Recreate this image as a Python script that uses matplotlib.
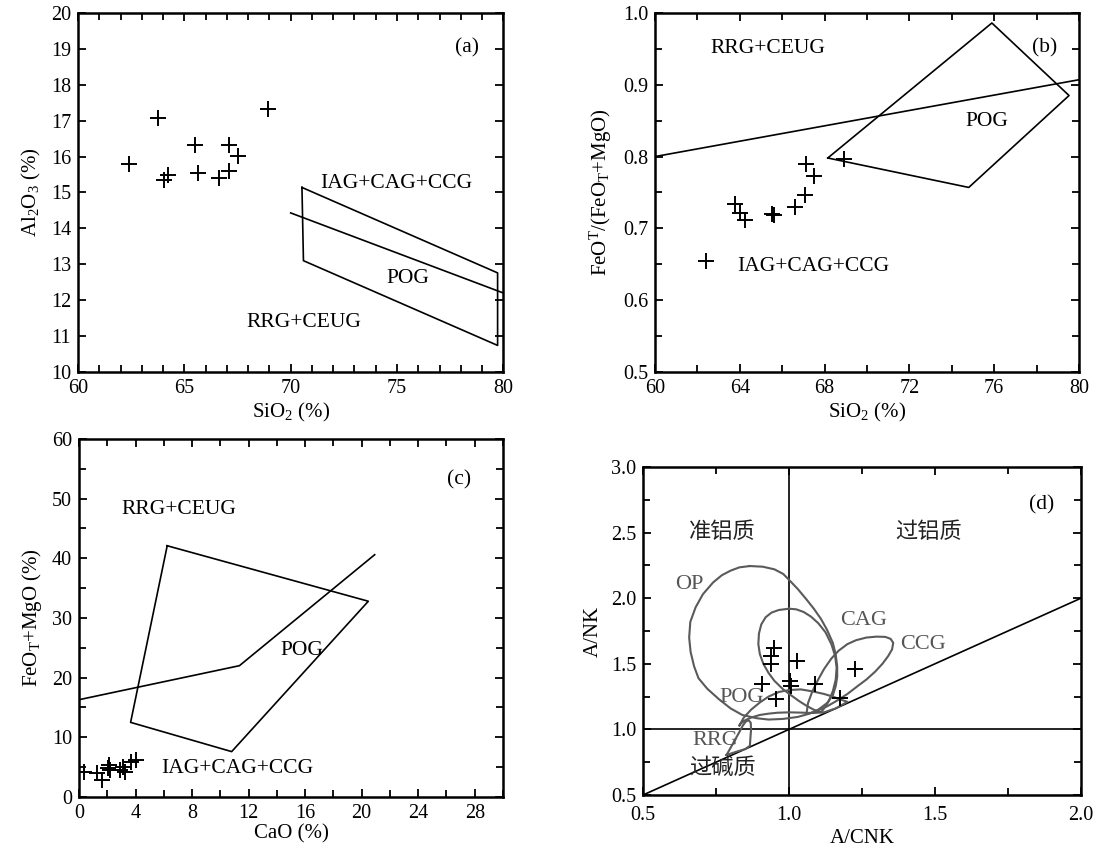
import matplotlib
matplotlib.use("Agg")
import matplotlib.pyplot as plt
from matplotlib.ticker import MultipleLocator, FormatStrFormatter

plt.rcParams["font.family"] = ["Liberation Serif", "Noto Sans CJK SC"]
plt.rcParams["mathtext.fontset"] = "custom"
plt.rcParams["mathtext.rm"] = "Liberation Serif"
plt.rcParams["mathtext.it"] = "Liberation Serif:italic"
plt.rcParams["mathtext.bf"] = "Liberation Serif:bold"

# sample analyses
sio2 = [62.42, 63.75, 64.03, 64.25, 65.50, 65.63, 66.61, 67.12, 67.09, 67.52, 68.92]
al2o3 = [15.79, 17.08, 15.36, 15.50, 16.32, 15.53, 15.39, 16.31, 15.61, 16.01, 17.33]
fe_ratio = [0.655, 0.734, 0.722, 0.711, 0.720, 0.718, 0.730, 0.790, 0.747, 0.773, 0.797]
cao = [0.36, 1.25, 1.63, 2.04, 2.10, 2.16, 2.93, 3.12, 3.24, 3.67, 4.03]
feo_mgo = [4.25, 4.0, 2.85, 4.8, 5.4, 4.5, 4.5, 5.1, 4.25, 5.9, 6.2]
a_cnk = [0.949, 0.940, 0.940, 1.029, 1.225, 0.908, 1.004, 1.008, 1.090, 0.955, 1.176]
a_nk = [1.621, 1.558, 1.500, 1.525, 1.457, 1.343, 1.368, 1.330, 1.343, 1.229, 1.236]

# (a) field boundaries
pog_a_x = [70.53, 79.73, 79.73, 70.60, 70.53]
pog_a_y = [15.14, 12.76, 10.74, 13.10, 15.14]
div_a_x = [70.0, 80.0]
div_a_y = [14.43, 12.2]

# (b) field boundaries
pog_b_x = [68.15, 75.89, 79.53, 74.80, 68.15]
pog_b_y = [0.798, 0.986, 0.885, 0.757, 0.798]
div_b_x = [60.0, 80.0]
div_b_y = [0.800, 0.907]

# (c) field boundaries
pog_c_x = [6.24, 20.47, 10.80, 3.65, 6.24]
pog_c_y = [42.1, 32.8, 7.6, 12.5, 42.1]
div_c_x = [0.0, 11.35, 20.92]
div_c_y = [16.3, 22.0, 40.6]

# (d) Shand index fields
op_x = [0.866, 0.91, 0.95, 0.98, 1.00, 1.03, 1.06, 1.085, 1.11, 1.13, 1.15,
        1.16, 1.165, 1.165, 1.16, 1.15, 1.13, 1.10, 1.07, 1.03, 0.98, 0.93,
        0.89, 0.84, 0.80, 0.76, 0.72, 0.69, 0.675, 0.663, 0.658, 0.662, 0.68,
        0.705, 0.74, 0.77, 0.80, 0.83, 0.866]
op_y = [2.245, 2.24, 2.22, 2.185, 2.14, 2.07, 1.99, 1.92, 1.84, 1.76, 1.66,
        1.57, 1.48, 1.40, 1.33, 1.26, 1.20, 1.15, 1.12, 1.095, 1.08, 1.075,
        1.085, 1.11, 1.16, 1.23, 1.31, 1.39, 1.48, 1.59, 1.70, 1.82, 1.93,
        2.03, 2.12, 2.175, 2.21, 2.235, 2.245]
cag_x = [1.00, 1.025, 1.05, 1.075, 1.10, 1.125, 1.145, 1.158, 1.163, 1.16,
         1.15, 1.135, 1.12, 1.11, 1.085, 1.06, 1.035, 1.01, 0.98, 0.95, 0.93,
         0.912, 0.90, 0.895, 0.897, 0.905, 0.92, 0.94, 0.965, 1.00]
cag_y = [1.92, 1.915, 1.895, 1.86, 1.81, 1.74, 1.65, 1.56, 1.47, 1.38,
         1.29, 1.21, 1.16, 1.13, 1.15, 1.18, 1.215, 1.255, 1.305, 1.37, 1.43,
         1.50, 1.575, 1.65, 1.73, 1.80, 1.855, 1.89, 1.91, 1.92]
ccg_x = [1.06, 1.065, 1.08, 1.10, 1.12, 1.145, 1.17, 1.20, 1.23, 1.265, 1.30,
         1.33, 1.348, 1.357, 1.353, 1.34, 1.32, 1.295, 1.265, 1.235, 1.20,
         1.165, 1.13, 1.10, 1.075, 1.06]
ccg_y = [1.12, 1.20, 1.29, 1.38, 1.46, 1.54, 1.60, 1.65, 1.68, 1.70, 1.707,
         1.705, 1.69, 1.66, 1.61, 1.56, 1.50, 1.44, 1.38, 1.33, 1.27,
         1.22, 1.175, 1.145, 1.125, 1.12]
pog_d_x = [0.83, 0.845, 0.87, 0.90, 0.93, 0.965, 1.00, 1.04, 1.08, 1.12,
           1.15, 1.18, 1.20, 1.16, 1.12, 1.08, 1.04, 1.00, 0.96, 0.93, 0.90,
           0.87, 0.85, 0.835, 0.83]
pog_d_y = [1.03, 1.09, 1.15, 1.205, 1.25, 1.285, 1.30, 1.305, 1.29, 1.27,
           1.25, 1.225, 1.21, 1.16, 1.13, 1.125, 1.128, 1.13, 1.127, 1.12,
           1.11, 1.09, 1.07, 1.045, 1.03]
rrg_x = [0.786, 0.80, 0.815, 0.83, 0.842, 0.852, 0.862, 0.869, 0.87, 0.868,
         0.866, 0.85, 0.82, 0.786]
rrg_y = [0.805, 0.86, 0.92, 0.98, 1.03, 1.06, 1.07, 1.05, 1.00, 0.94,
         0.875, 0.85, 0.83, 0.805]


def style_axes(ax, xlim, ylim, xmaj, xmin, ymaj, ymin, xfmt, yfmt):
    ax.set_xlim(*xlim)
    ax.set_ylim(*ylim)
    ax.xaxis.set_major_locator(MultipleLocator(xmaj))
    ax.yaxis.set_major_locator(MultipleLocator(ymaj))
    if xmin:
        ax.xaxis.set_minor_locator(MultipleLocator(xmin))
    if ymin:
        ax.yaxis.set_minor_locator(MultipleLocator(ymin))
    ax.xaxis.set_major_formatter(FormatStrFormatter(xfmt))
    ax.yaxis.set_major_formatter(FormatStrFormatter(yfmt))
    ax.tick_params(which="both", direction="in", top=True, right=True,
                   width=1.3, labelsize=14.5, pad=5)
    ax.tick_params(which="major", length=6)
    ax.tick_params(which="minor", length=5)
    for s in ax.spines.values():
        s.set_linewidth(1.8)


def plot_samples(ax, x, y):
    ax.plot(x, y, "+", color="black", markersize=12, markeredgewidth=1.4,
            linestyle="none")


fig = plt.figure(figsize=(10.99, 8.52), dpi=100)

line_kw = dict(color="black", linewidth=1.2)
lab_kw = dict(fontsize=15.5, ha="center", va="center")
axlab = 15

# (a) Al2O3 vs SiO2
ax = fig.add_axes([0.0710, 0.5634, 0.3870, 0.4214])
style_axes(ax, (60, 80), (10, 20), 5, 1, 1, None, "%d", "%d")
ax.plot(pog_a_x, pog_a_y, **line_kw)
ax.plot(div_a_x, div_a_y, **line_kw)
plot_samples(ax, sio2, al2o3)
ax.text(74.98, 15.26, "IAG+CAG+CCG", **lab_kw)
ax.text(75.49, 12.61, "POG", **lab_kw)
ax.text(70.6, 11.39, "RRG+CEUG", **lab_kw)
ax.text(78.3, 19.03, "(a)", **lab_kw)
ax.set_xlabel("SiO$_2$ (%)", fontsize=axlab, labelpad=2)
ax.set_ylabel("Al$_2$O$_3$ (%)", fontsize=axlab, labelpad=6)

# (b) FeOT/(FeOT+MgO) vs SiO2
ax = fig.add_axes([0.5960, 0.5634, 0.3858, 0.4214])
style_axes(ax, (60, 80), (0.5, 1.0), 4, 2, 0.1, 0.05, "%d", "%.1f")
ax.plot(pog_b_x, pog_b_y, **line_kw)
ax.plot(div_b_x, div_b_y, **line_kw)
plot_samples(ax, sio2, fe_ratio)
ax.text(65.33, 0.950, "RRG+CEUG", **lab_kw)
ax.text(75.64, 0.849, "POG", **lab_kw)
ax.text(67.46, 0.647, "IAG+CAG+CCG", **lab_kw)
ax.text(78.4, 0.952, "(b)", **lab_kw)
ax.set_xlabel("SiO$_2$ (%)", fontsize=axlab, labelpad=2)
ax.set_ylabel("FeO$^{\\mathrm{T}}$/(FeO$_{\\mathrm{T}}$+MgO)", fontsize=axlab,
              labelpad=6)

# (c) FeOT+MgO vs CaO
ax = fig.add_axes([0.0719, 0.0646, 0.3858, 0.4202])
style_axes(ax, (0, 30), (0, 60), 4, 2, 10, 5, "%d", "%d")
ax.plot(pog_c_x, pog_c_y, **line_kw)
ax.plot(div_c_x, div_c_y, **line_kw)
plot_samples(ax, cao, feo_mgo)
ax.text(7.08, 48.2, "RRG+CEUG", **lab_kw)
ax.text(15.8, 24.6, "POG", **lab_kw)
ax.text(11.2, 4.8, "IAG+CAG+CCG", **lab_kw)
ax.text(26.9, 53.2, "(c)", **lab_kw)
ax.set_xlabel("CaO (%)", fontsize=axlab, labelpad=1)
ax.set_ylabel("FeO$_{\\mathrm{T}}$+MgO (%)", fontsize=axlab, labelpad=6)

# (d) A/NK vs A/CNK
ax = fig.add_axes([0.5851, 0.0669, 0.3985, 0.3850])
style_axes(ax, (0.5, 2.0), (0.5, 3.0), 0.5, 0.25, 0.5, 0.25, "%.1f", "%.1f")
ax.tick_params(axis="x", which="major", pad=8)
ax.axvline(1.0, **line_kw)
ax.axhline(1.0, **line_kw)
ax.plot([0.5, 2.0], [0.5, 2.0], **line_kw)
curve_kw = dict(color="#5a5a5a", linewidth=1.5, solid_joinstyle="round")
for cx, cy in [(op_x, op_y), (cag_x, cag_y), (ccg_x, ccg_y),
               (pog_d_x, pog_d_y), (rrg_x, rrg_y)]:
    ax.plot(cx, cy, **curve_kw)
plot_samples(ax, a_cnk, a_nk)
grey_kw = dict(fontsize=16, ha="center", va="center", color="#555555")
ax.text(0.657, 2.107, "OP", **grey_kw)
ax.text(1.256, 1.83, "CAG", **grey_kw)
ax.text(1.459, 1.65, "CCG", **grey_kw)
ax.text(0.838, 1.246, "POG", **grey_kw)
ax.text(0.746, 0.912, "RRG", **grey_kw)
cjk_kw = dict(fontsize=16, ha="center", va="center", color="#222222",
              family=["Noto Sans CJK SC", "Liberation Serif"])
ax.text(0.77, 2.51, "准铝质", **cjk_kw)
ax.text(1.478, 2.51, "过铝质", **cjk_kw)
ax.text(0.773, 0.71, "过碱质", **cjk_kw)
ax.text(1.865, 2.709, "(d)", **lab_kw)
ax.set_xlabel("A/CNK", fontsize=axlab, labelpad=3)
ax.set_ylabel("A/NK", fontsize=axlab, labelpad=6)

fig.savefig("out.png", dpi=100)
